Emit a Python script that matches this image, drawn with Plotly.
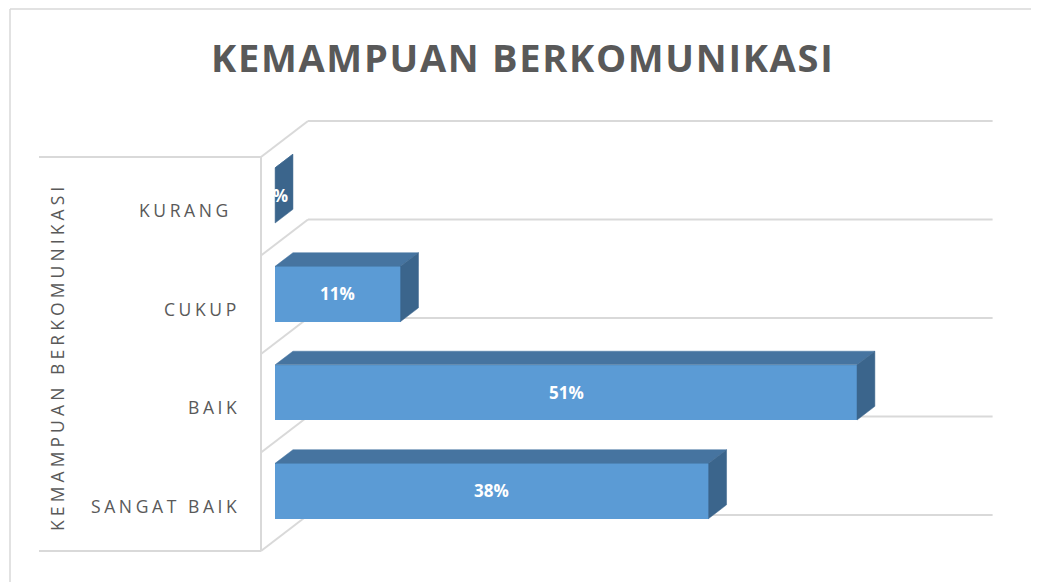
import plotly.graph_objects as go

# ---------------- data ----------------
CATEGORIES = ["SANGAT BAIK", "BAIK", "CUKUP", "KURANG "]
VALUES = [38, 51, 11, 0]           # percent
LABELS = [f"{v}%" for v in VALUES]
TITLE = "KEMAMPUAN BERKOMUNIKASI"
AXIS_TITLE = "KEMAMPUAN BERKOMUNIKASI"
VALUE_MAX = 60

# ---------------- style / geometry ----------------
OFF = 8                      # page body margin
W, H = 1039 - OFF, 582 - OFF
PX_PER_PCT = 11.41
PX_PER_CAT = 98.5
WALL_X_PX = 261 - OFF        # pixel position of value 0 on the front plane
FRONT_BOTTOM_PX = 551 - OFF  # pixel position of the lowest category boundary
DEPTH_DX = 47 / PX_PER_PCT
DEPTH_DY = 36 / PX_PER_CAT
BAR_D0, BAR_D1 = 0.30, 0.68
BAR_H = 0.56
FRONT = "#5B9BD5"
TOP = "#4674A0"
SIDE = "#3B658C"
GRID = "#D9D9D9"
TXT = "#595959"
FONT = "Open Sans"

x_range = [-WALL_X_PX / PX_PER_PCT, (W - WALL_X_PX) / PX_PER_PCT]
y_range = [-0.5 - (H - FRONT_BOTTOM_PX) / PX_PER_CAT,
           -0.5 + FRONT_BOTTOM_PX / PX_PER_CAT]


def proj(v, y, d):
    return v + d * DEPTH_DX, y + d * DEPTH_DY


n = len(CATEGORIES)
fig = go.Figure()

# front faces
fig.add_trace(go.Bar(
    orientation="h",
    x=VALUES,
    base=[BAR_D0 * DEPTH_DX] * n,
    y=[i + BAR_D0 * DEPTH_DY for i in range(n)],
    width=BAR_H,
    marker=dict(color=FRONT, line=dict(width=0)),
    hoverinfo="skip",
))

# top and side faces
for i, v in enumerate(VALUES):
    yt, yb = i + BAR_H / 2, i - BAR_H / 2
    top = [proj(0, yt, BAR_D0), proj(v, yt, BAR_D0), proj(v, yt, BAR_D1), proj(0, yt, BAR_D1)]
    side = [proj(v, yb, BAR_D0), proj(v, yt, BAR_D0), proj(v, yt, BAR_D1), proj(v, yb, BAR_D1)]
    for poly, col in ((top, TOP), (side, SIDE)):
        xs = [p[0] for p in poly] + [poly[0][0]]
        ys = [p[1] for p in poly] + [poly[0][1]]
        fig.add_trace(go.Scatter(x=xs, y=ys, mode="lines", fill="toself",
                                 fillcolor=col, line=dict(color=col, width=0.5),
                                 hoverinfo="skip"))

shapes = []
bounds = [i - 0.5 for i in range(n + 1)]
for b in bounds:
    # back wall lines
    x0, y0 = proj(0, b, 1)
    x1, y1 = proj(VALUE_MAX, b, 1)
    shapes.append(dict(type="line", xref="x", yref="y", x0=x0, y0=y0, x1=x1, y1=y1,
                       line=dict(color=GRID, width=2), layer="below"))
    # left wall diagonals
    x0, y0 = proj(0, b, 0)
    x1, y1 = proj(0, b, 1)
    shapes.append(dict(type="line", xref="x", yref="y", x0=x0, y0=y0, x1=x1, y1=y1,
                       line=dict(color=GRID, width=2), layer="below"))
# front edge of left wall
shapes.append(dict(type="line", xref="x", yref="y", x0=0, y0=bounds[0], x1=0, y1=bounds[-1],
                   line=dict(color=GRID, width=2), layer="below"))
# label area lines
label_start = -(261 - 39) / PX_PER_PCT
for b in (bounds[0], bounds[-1]):
    shapes.append(dict(type="line", xref="x", yref="y", x0=label_start, y0=b, x1=0, y1=b,
                       line=dict(color=GRID, width=2), layer="below"))
# chart border
bx, by = (10 - OFF) / W, 1 - (9 - OFF) / H
shapes.append(dict(type="line", xref="paper", yref="paper", x0=bx, y0=by, x1=1, y1=by,
                   line=dict(color=GRID, width=1.5)))
shapes.append(dict(type="line", xref="paper", yref="paper", x0=bx, y0=0, x1=bx, y1=by,
                   line=dict(color=GRID, width=1.5)))

annotations = []
# data labels
for i, (v, lab) in enumerate(zip(VALUES, LABELS)):
    cx, cy = proj(v / 2, i, BAR_D0)
    annotations.append(dict(xref="x", yref="y", x=cx, y=cy, text=f"<b>{lab}</b>",
                            xanchor="center", yanchor="middle",
                            showarrow=False, font=dict(family=FONT, size=17, color="white")))
# category labels
for i, c in enumerate(CATEGORIES):
    annotations.append(dict(xref="x", yref="y", x=0, y=i, xanchor="right", yanchor="middle",
                            yshift=-4, xshift=-19,
                            text=f"<span style='letter-spacing:3.6px'>{c}</span>",
                            showarrow=False, font=dict(family=FONT, size=17.5, color=TXT)))
# axis title
annotations.append(dict(xref="paper", yref="y", x=(57 - OFF) / W, y=(bounds[0] + bounds[-1]) / 2,
                        yshift=-3, xanchor="center", yanchor="middle",
                        text=f"<span style='letter-spacing:4.1px'>{AXIS_TITLE}</span>",
                        textangle=-90, showarrow=False,
                        font=dict(family=FONT, size=17.5, color=TXT)))
# chart title
annotations.append(dict(xref="paper", yref="paper", x=(522 - OFF) / W, y=1 - (57 - OFF) / H,
                        xanchor="center", yanchor="middle",
                        text=f"<b><span style='letter-spacing:1.7px'>{TITLE}</span></b>",
                        showarrow=False, font=dict(family=FONT, size=38, color=TXT)))

fig.update_layout(
    width=W, height=H,
    margin=dict(l=0, r=0, t=0, b=0),
    paper_bgcolor="white", plot_bgcolor="white",
    showlegend=False,
    xaxis=dict(range=x_range, visible=False, fixedrange=True),
    yaxis=dict(range=y_range, visible=False, fixedrange=True),
    shapes=shapes, annotations=annotations,
    bargap=0,
)

fig.write_html("out.html")
